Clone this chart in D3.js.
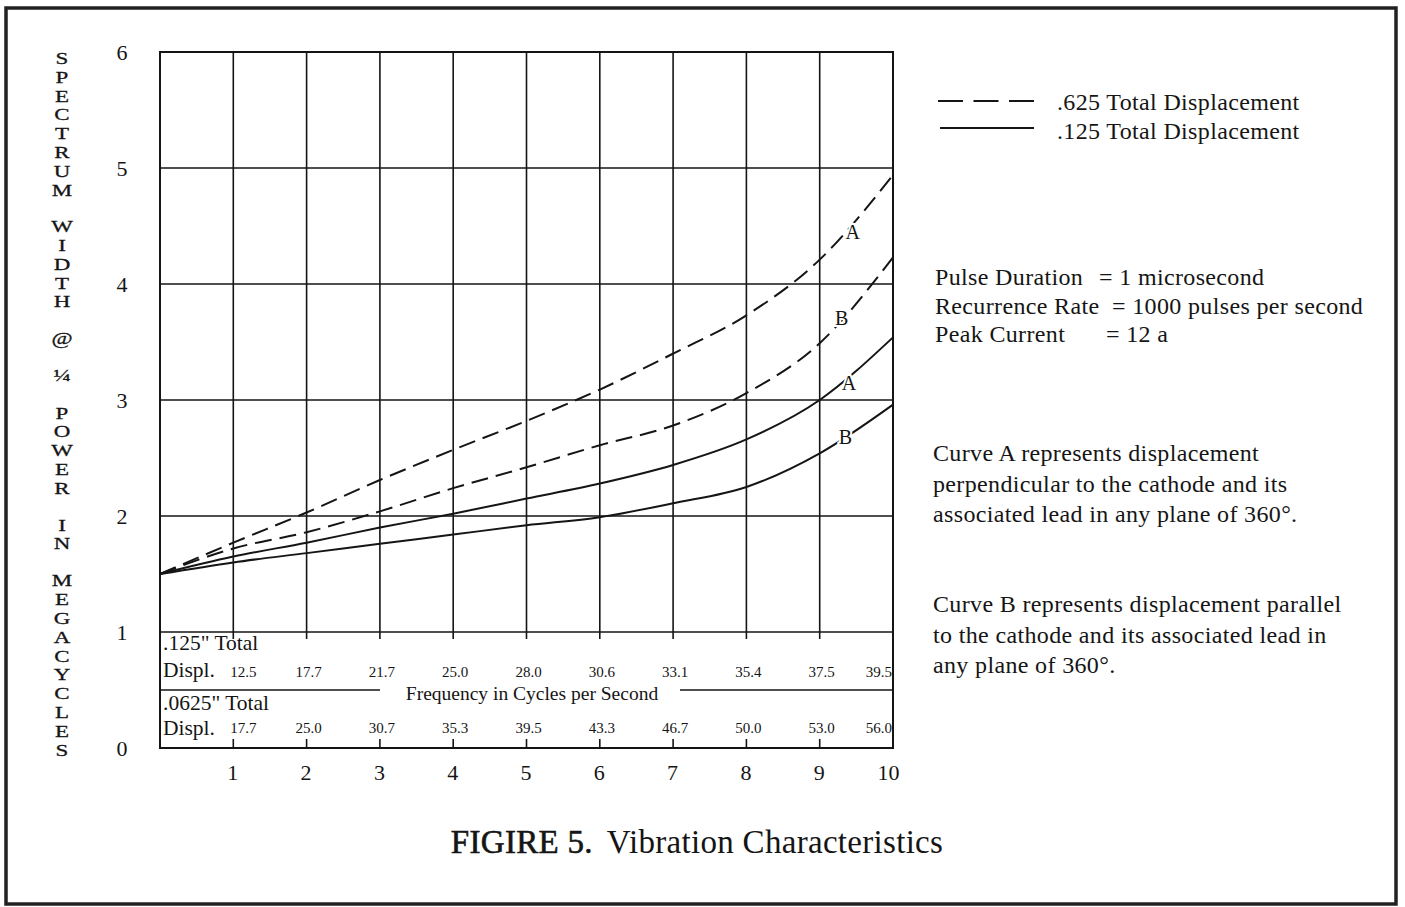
<!DOCTYPE html>
<html>
<head>
<meta charset="utf-8">
<script src="https://d3js.org/d3.v7.min.js"></script>
<style>
  body { margin: 0; background: #fff; }
  svg { display: block; }
  text { font-family: "Liberation Serif", "Times New Roman", serif; fill: #151515; }
  .upright { writing-mode: vertical-rl; text-orientation: upright; }
</style>
</head>
<body>
<div id="chart"></div>
<script>
// x positions (frequency steps) and y ticks
var xValues = [0, 1, 2, 3, 4, 5, 6, 7, 8, 9, 10];
var xTicks = [1, 2, 3, 4, 5, 6, 7, 8, 9, 10];
var yTicks = [0, 1, 2, 3, 4, 5, 6];

// spectrum width (megacycles)
var dashedA = [1.5, 1.77, 2.03, 2.31, 2.57, 2.82, 3.09, 3.40, 3.73, 4.21, 4.94];
var dashedB = [1.5, 1.72, 1.86, 2.04, 2.24, 2.42, 2.61, 2.78, 3.06, 3.49, 4.23];
var solidA  = [1.5, 1.65, 1.77, 1.90, 2.02, 2.15, 2.28, 2.44, 2.66, 3.00, 3.54];
var solidB  = [1.5, 1.60, 1.68, 1.76, 1.84, 1.92, 1.99, 2.11, 2.25, 2.54, 2.96];

// frequency in cycles per second for each step
var displ125  = [12.5, 17.7, 21.7, 25.0, 28.0, 30.6, 33.1, 35.4, 37.5, 39.5];
var displ0625 = [17.7, 25.0, 30.7, 35.3, 39.5, 43.3, 46.7, 50.0, 53.0, 56.0];

var yTitleWords = ["SPECTRUM", "WIDTH", "@", "\u00BC", "POWER", "IN", "MEGACYCLES"];
var legendLabels = [".625 Total Displacement", ".125 Total Displacement"];
var conditionNames = ["Pulse Duration", "Recurrence Rate", "Peak Current"];
var conditionValues = ["= 1 microsecond", "= 1000 pulses per second", "= 12 a"];
var noteA = ["Curve A represents displacement", "perpendicular to the cathode and its", "associated lead in any plane of 360\u00B0."];
var noteB = ["Curve B represents displacement parallel", "to the cathode and its associated lead in", "any plane of 360\u00B0."];
var titleFig = "FIGIRE 5.";
var titleText = "Vibration Characteristics";

var svgWidth = 1405;
var svgHeight = 907;
var ink = "#151515";

var svg = d3.select("#chart")
  .append("svg")
  .attr("width", svgWidth)
  .attr("height", svgHeight);

svg.append("rect").attr("width", svgWidth).attr("height", svgHeight).attr("fill", "#fff");

// outer frame
svg.append("rect")
  .attr("x", 6).attr("y", 8)
  .attr("width", 1390).attr("height", 896)
  .attr("fill", "none").attr("stroke", "#222").attr("stroke-width", 3.5);

// scales
var x = d3.scaleLinear().domain([0, 10]).range([160, 893]);
var y = d3.scaleLinear().domain([0, 6]).range([748, 52]);

var grid = svg.append("g").attr("stroke", ink).attr("stroke-width", 1.6);

// horizontal grid lines (1 is the top of the frequency table)
grid.selectAll("line.h")
  .data(yTicks.filter(function(d) { return d > 0 && d < 6; }))
  .enter().append("line")
  .attr("x1", x(0)).attr("x2", x(10))
  .attr("y1", function(d) { return y(d); })
  .attr("y2", function(d) { return y(d); });

// vertical grid lines, stopping at the table with a short tick
grid.selectAll("line.v")
  .data(xTicks.filter(function(d) { return d < 10; }))
  .enter().append("line")
  .attr("x1", function(d) { return x(d); })
  .attr("x2", function(d) { return x(d); })
  .attr("y1", y(6)).attr("y2", y(1) + 7);

// ticks rising from the bottom line
grid.selectAll("line.b")
  .data(xTicks.filter(function(d) { return d < 10; }))
  .enter().append("line")
  .attr("x1", function(d) { return x(d); })
  .attr("x2", function(d) { return x(d); })
  .attr("y1", y(0)).attr("y2", y(0) - 9);

// plot box
svg.append("rect")
  .attr("x", x(0)).attr("y", y(6))
  .attr("width", x(10) - x(0)).attr("height", y(0) - y(6))
  .attr("fill", "none").attr("stroke", ink).attr("stroke-width", 2);

// separator inside the table, broken by its caption
var sepY = 690;
grid.append("line").attr("x1", x(0)).attr("x2", 380).attr("y1", sepY).attr("y2", sepY);
grid.append("line").attr("x1", 680).attr("x2", x(10)).attr("y1", sepY).attr("y2", sepY);
svg.append("text")
  .attr("x", 532).attr("y", 700)
  .attr("text-anchor", "middle")
  .style("font-size", "19.5px")
  .text("Frequency in Cycles per Second");

// table row headings
var rowHead = svg.append("g").style("font-size", "21.5px");
rowHead.append("text").attr("x", 163).attr("y", 650).text(".125\" Total");
rowHead.append("text").attr("x", 163).attr("y", 677).text("Displ.");
rowHead.append("text").attr("x", 163).attr("y", 710).text(".0625\" Total");
rowHead.append("text").attr("x", 163).attr("y", 735).text("Displ.");

function tableRow(values, baseline) {
  svg.append("g").selectAll("text")
    .data(values)
    .enter().append("text")
    .attr("x", function(d, i) {
      var step = xTicks[i];
      if (step === 10) return x(10) - 1;
      if (step === 1) return x(1) + 10;
      return x(step) + 2;
    })
    .attr("y", baseline)
    .attr("text-anchor", function(d, i) { return xTicks[i] === 10 ? "end" : "middle"; })
    .style("font-size", "15px")
    .text(function(d) { return d.toFixed(1); });
}
tableRow(displ125, 677);
tableRow(displ0625, 733);

// y axis numbers
var yAxis = d3.axisLeft(y).tickValues(yTicks).tickSize(0).tickPadding(33).tickFormat(d3.format("d"));
var yAxisG = svg.append("g").attr("transform", "translate(" + x(0) + ",0)").call(yAxis);
yAxisG.select(".domain").remove();
yAxisG.selectAll("text")
  .attr("text-anchor", "middle")
  .attr("x", -38)
  .attr("dy", "0.35em")
  .style("font-family", "\"Liberation Serif\", serif")
  .style("font-size", "22px")
  .attr("fill", ink);

// x axis numbers
var xAxis = d3.axisBottom(x).tickValues(xTicks).tickSize(0).tickPadding(0).tickFormat(d3.format("d"));
var xAxisG = svg.append("g").attr("transform", "translate(0,764)").call(xAxis);
xAxisG.select(".domain").remove();
xAxisG.selectAll("text")
  .attr("dy", "0.71em")
  .attr("dx", function(d) { return d === 10 ? -5 : -1; })
  .style("font-family", "\"Liberation Serif\", serif")
  .style("font-size", "22px")
  .attr("fill", ink);

// y title: each word set upright in a vertical line, fitted to the letter pitch
var titleSize = 20.5;
var letterStep = 18.7;
var wordGap = 18.5;
var firstLetter = [];
var count = 0;
yTitleWords.forEach(function(word) {
  firstLetter.push(count);
  count += Array.from(word).length;
});
svg.append("g").selectAll("text")
  .data(yTitleWords)
  .enter().append("text")
  .attr("class", "upright")
  .attr("x", 0).attr("y", 0)
  .attr("stroke", ink).attr("stroke-width", 0.35)
  .style("font-size", titleSize + "px")
  .text(function(d) { return d; })
  .each(function(d, w) {
    var box = this.getBBox();
    var n = Array.from(d).length;
    var k = (n * letterStep) / box.height;
    var top = 58 + firstLetter[w] * letterStep + w * wordGap - letterStep / 2;
    d3.select(this).attr("transform",
      "translate(62," + (top - box.y * k) + ") scale(1.12," + k + ")");
  });

// curves
var line = d3.line()
  .x(function(d, i) { return x(xValues[i]); })
  .y(function(d) { return y(d); })
  .curve(d3.curveMonotoneX);

var curves = [
  { values: dashedA, dash: "17,8" },
  { values: dashedB, dash: "17,8" },
  { values: solidA, dash: null },
  { values: solidB, dash: null }
];
svg.append("g").selectAll("path")
  .data(curves)
  .enter().append("path")
  .attr("d", function(d) { return line(d.values); })
  .attr("fill", "none")
  .attr("stroke", ink)
  .attr("stroke-width", 2)
  .attr("stroke-dasharray", function(d) { return d.dash; });

// curve letters
var curveLabels = [
  { t: "A", xv: 9.45, yv: 4.45 },
  { t: "B", xv: 9.3, yv: 3.71 },
  { t: "A", xv: 9.4, yv: 3.15 },
  { t: "B", xv: 9.35, yv: 2.68 }
];
svg.append("g").selectAll("text")
  .data(curveLabels)
  .enter().append("text")
  .attr("x", function(d) { return x(d.xv); })
  .attr("y", function(d) { return y(d.yv) + 7; })
  .attr("text-anchor", "middle")
  .attr("stroke", "#fff").attr("stroke-width", 4)
  .style("paint-order", "stroke")
  .style("font-size", "20px")
  .text(function(d) { return d.t; });

// legend
var legend = svg.append("g");
legend.append("line")
  .attr("x1", 938).attr("x2", 1034).attr("y1", 101).attr("y2", 101)
  .attr("stroke", ink).attr("stroke-width", 2).attr("stroke-dasharray", "25,10.5");
legend.append("line")
  .attr("x1", 940).attr("x2", 1034).attr("y1", 128).attr("y2", 128)
  .attr("stroke", ink).attr("stroke-width", 2);
legend.selectAll("text")
  .data(legendLabels)
  .enter().append("text")
  .attr("x", 1057)
  .attr("y", function(d, i) { return 110 + i * 29; })
  .style("font-size", "24px")
  .style("letter-spacing", "0.35px")
  .text(function(d) { return d; });

// test conditions
var condValueX = [1099, 1112, 1106];
var cond = svg.append("g").style("font-size", "24px").style("letter-spacing", "0.35px");
conditionNames.forEach(function(name, i) {
  var t = cond.append("text").attr("y", 285 + i * 28.5);
  t.append("tspan").attr("x", 935).text(name);
  t.append("tspan").attr("x", condValueX[i]).text(conditionValues[i]);
});

// curve notes
function noteBlock(lines, top) {
  svg.append("g").selectAll("text")
    .data(lines)
    .enter().append("text")
    .attr("x", 933)
    .attr("y", function(d, i) { return top + i * 30.5; })
    .style("font-size", "24px")
    .style("letter-spacing", "0.35px")
    .text(function(d) { return d; });
}
noteBlock(noteA, 461);
noteBlock(noteB, 612);

// caption
var cap = svg.append("text")
  .attr("x", 697).attr("y", 853)
  .attr("text-anchor", "middle")
  .style("font-size", "33px")
  .style("letter-spacing", "0.3px");
cap.append("tspan").attr("stroke", ink).attr("stroke-width", 0.6).text(titleFig);
cap.append("tspan").attr("dx", 14).text(titleText);
</script>
</body>
</html>
